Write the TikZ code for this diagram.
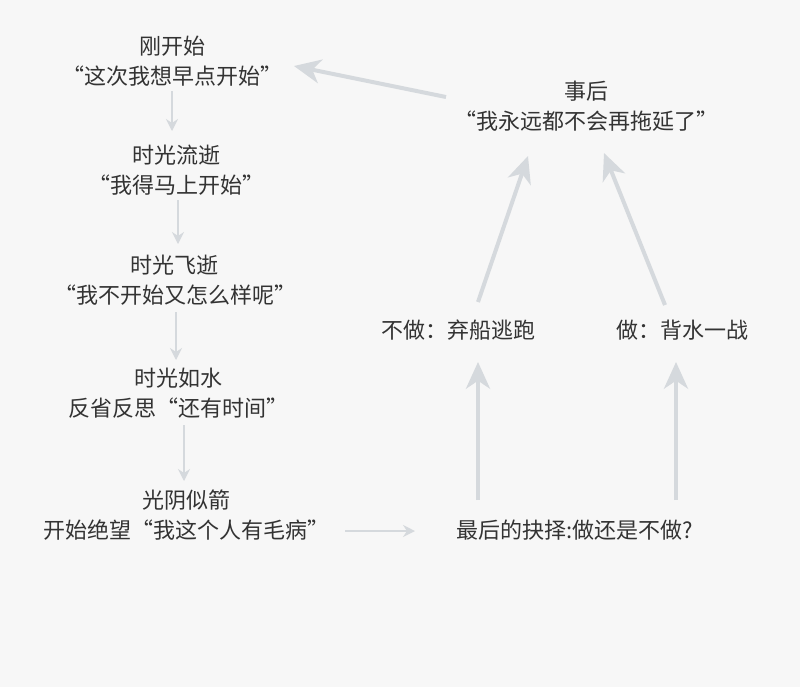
\documentclass[tikz,border=0pt]{standalone}
\usepackage{fontspec}
\setmainfont{Noto Sans CJK SC}
\usetikzlibrary{arrows.meta}
\definecolor{bg}{HTML}{F7F7F7}
\definecolor{txt}{HTML}{333333}
\definecolor{arr}{HTML}{D5D9DD}
\begin{document}
\begin{tikzpicture}[x=0.75pt,y=-0.75pt,
  lbl/.style={text=txt,font=\fontsize{16.5}{22.5}\selectfont,align=center,inner sep=0pt},
  thin arr/.style={draw=arr,line width=1.3pt,-{Stealth[length=9pt,width=9pt,inset=3pt]}},
  thick arr/.style={draw=arr,line width=3pt,-{Stealth[length=20pt,width=18pt,inset=6pt]}}]
\fill[bg] (0,0) rectangle (800,687);
\useasboundingbox (0,0) rectangle (800,687);
\node[lbl] (n1) at (172,61) {刚开始\\“这次我想早点开始”};
\node[lbl] (n2) at (176,170) {时光流逝\\“我得马上开始”};
\node[lbl] (n3) at (175,280) {时光飞逝\\“我不开始又怎么样呢”};
\node[lbl] (n4) at (178,393) {时光如水\\反省反思“还有时间”};
\node[lbl] (n5) at (186,515) {光阴似箭\\开始绝望“我这个人有毛病”};
\node[lbl] (n6) at (575,530) {最后的抉择:做还是不做?};
\node[lbl] (n7) at (458,330) {不做：弃船逃跑};
\node[lbl] (n8) at (682,330) {做：背水一战};
\node[lbl] (n9) at (586,106) {事后\\“我永远都不会再拖延了”};
\coordinate (a1) at (172,91); \coordinate (b1) at (172,131);
\coordinate (a2) at (178,200); \coordinate (b2) at (178,244);
\coordinate (a3) at (176,312); \coordinate (b3) at (176,360);
\coordinate (a4) at (184,425); \coordinate (b4) at (184,481);
\coordinate (a5) at (345,531); \coordinate (b5) at (415,531);
\coordinate (a6) at (478,500); \coordinate (b6) at (478,362);
\coordinate (a7) at (676,500); \coordinate (b7) at (676,362);
\coordinate (a8) at (478,302); \coordinate (b8) at (528,156);
\coordinate (a9) at (665,305); \coordinate (b9) at (604,153);
\coordinate (a10) at (446,97); \coordinate (b10) at (294,66);
\draw[thin arr] (a1) -- (b1);
\draw[thin arr] (a2) -- (b2);
\draw[thin arr,line width=2pt] (a3) -- (b3);
\draw[thin arr,line width=2pt] (a4) -- (b4);
\draw[thin arr,line width=1.5pt] (a5) -- (b5);
\draw[thick arr] (a6) -- (b6);
\draw[thick arr] (a7) -- (b7);
\draw[thick arr] (a8) -- (b8);
\draw[thick arr] (a9) -- (b9);
\draw[thick arr] (a10) -- (b10);
\end{tikzpicture}
\end{document}
